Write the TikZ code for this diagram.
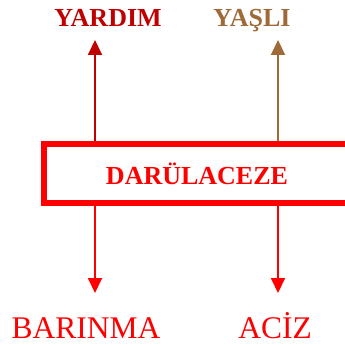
\documentclass[tikz,border=0pt]{standalone}
\usepackage{fontspec}
\setmainfont{Liberation Serif}
\usetikzlibrary{arrows.meta}
\definecolor{dred}{HTML}{C00000}
\definecolor{brn}{HTML}{9E6A38}
\definecolor{rd}{HTML}{FF0000}
\tikzset{
  lbl/.style={anchor=base, inner sep=0pt, font=\fontsize{26}{30}\selectfont\bfseries},
  biglbl/.style={anchor=base, inner sep=0pt, font=\fontsize{31.5}{36}\selectfont, text=rd},
  arr/.style={line width=2pt, -{Triangle[length=15pt,width=14pt]}},
  mainbox/.style={draw=rd, line width=6pt, minimum width=306pt, minimum height=59pt, inner sep=0pt,
     text=rd, font=\fontsize{26}{30}\selectfont\bfseries}
}
\begin{document}
\begin{tikzpicture}[x=1pt,y=-1pt]
\useasboundingbox (0,0) rectangle (345,345);
\clip (0,0) rectangle (345,345);
\node[lbl, text=dred] (yardim) at (108,27) {YARDIM};
\node[lbl, text=brn] (yasli) at (252,27) {YAŞLI};
\node[mainbox] (box) at (197,173.5) {\raisebox{0pt}{DARÜLACEZE}};
\node[biglbl] (barinma) at (86,338) {BARINMA};
\node[biglbl] (aciz) at (275,338) {ACİZ};
\coordinate (t1) at (95,40);
\coordinate (t2) at (278,40);
\coordinate (b1) at (95,293);
\coordinate (b2) at (278,293);
\draw[arr, dred] (t1 |- box.north) -- (t1);
\draw[arr, brn] (t2 |- box.north) -- (t2);
\draw[arr, rd] (b1 |- box.south) -- (b1);
\draw[arr, rd] (b2 |- box.south) -- (b2);
\end{tikzpicture}
\end{document}
